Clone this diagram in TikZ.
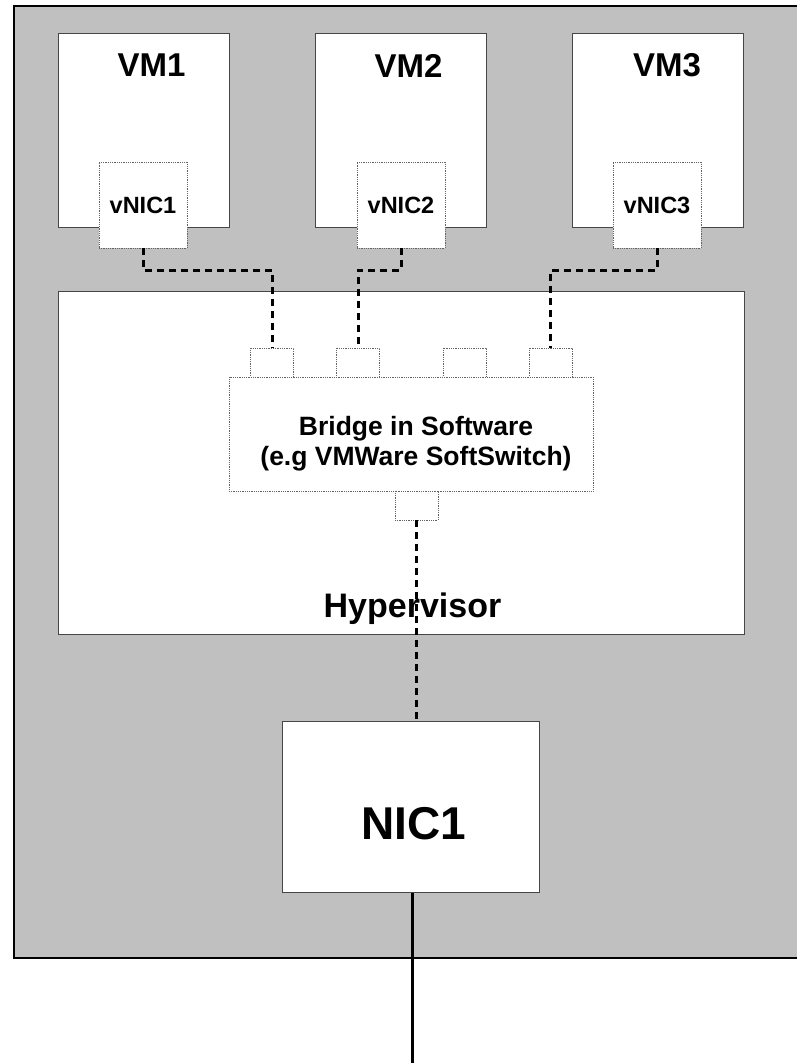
\documentclass[tikz,border=0pt]{standalone}
\usepackage{fontspec}
\setmainfont{Liberation Sans}
\definecolor{hostgray}{RGB}{192,192,192}
\definecolor{edgegray}{RGB}{70,70,70}
\definecolor{dotgray}{RGB}{100,100,100}
\tikzset{
  vmbox/.style={draw=edgegray, fill=white, line width=1pt, inner sep=0pt, minimum width=171pt, minimum height=194pt},
  vnicbox/.style={draw=dotgray, fill=white, densely dotted, line width=.8pt, inner sep=0pt, minimum width=88pt, minimum height=86pt, font=\bfseries\fontsize{23.5}{28}\selectfont},
  portbox/.style={draw=dotgray, fill=white, densely dotted, line width=.8pt, inner sep=0pt, minimum width=43pt, minimum height=29pt},
  biglabel/.style={inner sep=0pt, font=\bfseries\fontsize{33}{40}\selectfont},
  link/.style={line width=3pt, dash pattern=on 7pt off 5pt}
}
\begin{document}
\begin{tikzpicture}[x=1pt, y=-1pt]
  \useasboundingbox (0,0) rectangle (797,1063);
  % host
  \draw[line width=1.5pt, fill=hostgray] (14,6) rectangle (812,958);
  % virtual machines
  \node[vmbox] (vm1) at (143.5,130) {};
  \node[vmbox] (vm2) at (400.5,130) {};
  \node[vmbox] (vm3) at (658,130) {};
  \node[biglabel] at ([xshift=8pt]vm1.center |- 0,65.5) {VM1};
  \node[biglabel] at ([xshift=8pt]vm2.center |- 0,65.5) {VM2};
  \node[biglabel] at ([xshift=9pt]vm3.center |- 0,65.5) {VM3};
  \node[vnicbox] (vnic1) at (143,205) {vNIC1};
  \node[vnicbox] (vnic2) at (401,205) {vNIC2};
  \node[vnicbox] (vnic3) at (657,205) {vNIC3};
  % hypervisor and bridge
  \node[draw=edgegray, fill=white, line width=1pt, inner sep=0pt, minimum width=686pt, minimum height=343pt] (hyp) at (401,462.5) {};
  \node[biglabel, anchor=base, font=\bfseries\fontsize{34}{40}\selectfont] at (412.5,617) {Hypervisor};
  \node[portbox] (p1) at (272,362.5) {};
  \node[portbox] (p2) at (358,362.5) {};
  \node[portbox] (p3) at (464.5,362.5) {};
  \node[portbox] (p4) at (550.5,362.5) {};
  \node[draw=dotgray, fill=white, densely dotted, line width=.8pt, inner sep=0pt, minimum width=364pt, minimum height=114pt] (bridge) at (411,434) {};
  \node[inner sep=0pt, align=center, font=\bfseries\fontsize{26.5}{30}\selectfont] at (416,443.5) {Bridge in Software\\(e.g VMWare SoftSwitch)};
  \node[portbox] (bport) at (416.5,505.5) {};
  % physical nic
  \node[draw=edgegray, fill=white, line width=1pt, inner sep=0pt, minimum width=257pt, minimum height=171pt] (nic) at (410.5,806.5) {};
  \node[inner sep=0pt, font=\bfseries\fontsize{46}{54}\selectfont] at (414,824) {NIC1};
  % links
  \draw[link] (vnic1.south) -- ++(0,22) -| (p1.north);
  \draw[link] (vnic2.south) -- ++(0,22) -| (p2.north);
  \draw[link] (vnic3.south) -- ++(0,22) -| (p4.north);
  \draw[link] (bport.south) -- (bport.south |- nic.north);
  \coordinate (wire) at (412,1070);
  \draw[line width=3pt] (wire |- nic.south) -- (wire);
\end{tikzpicture}
\end{document}
